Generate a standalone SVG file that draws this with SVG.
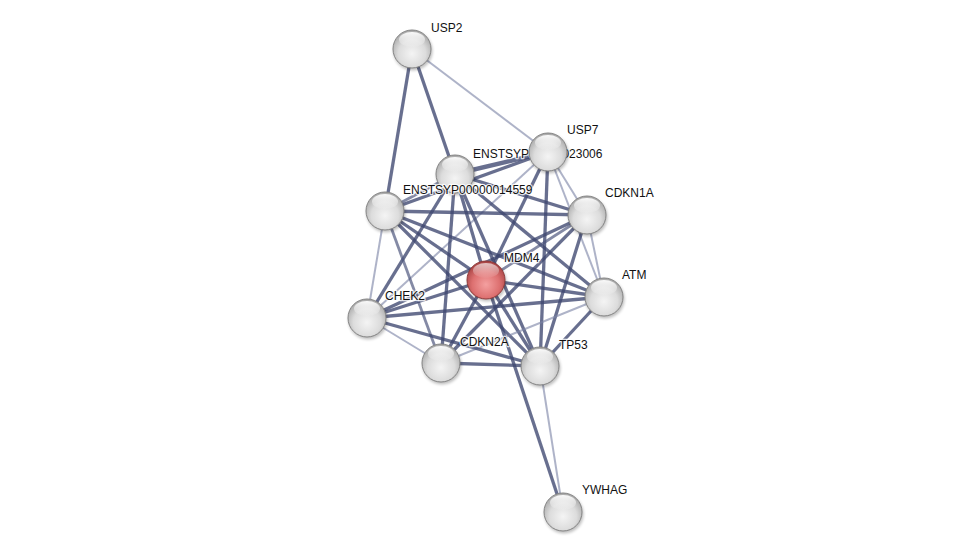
<svg xmlns="http://www.w3.org/2000/svg" width="975" height="557" viewBox="0 0 975 557">
<defs>
<radialGradient id="gGrey" cx="0.5" cy="0.62" r="0.6">
<stop offset="0" stop-color="#f4f4f4"/>
<stop offset="0.6" stop-color="#dcdcdc"/>
<stop offset="1" stop-color="#a9a9a9"/>
</radialGradient>
<radialGradient id="gRed" cx="0.5" cy="0.62" r="0.6">
<stop offset="0" stop-color="#f4a0a0"/>
<stop offset="0.6" stop-color="#dd7070"/>
<stop offset="1" stop-color="#a84444"/>
</radialGradient>
<linearGradient id="gHi" x1="0" y1="0" x2="0" y2="1">
<stop offset="0" stop-color="#ffffff" stop-opacity="0.95"/>
<stop offset="1" stop-color="#ffffff" stop-opacity="0.05"/>
</linearGradient>
<filter id="sh" x="-30%" y="-30%" width="160%" height="160%">
<feGaussianBlur stdDeviation="1.5"/>
</filter>
<g id="sphere">
<circle cx="1" cy="2" r="19.5" fill="#000" opacity="0.25" filter="url(#sh)"/>
<circle r="19" fill="url(#gGrey)" stroke="#858585" stroke-width="1"/>
<ellipse cx="0" cy="-9.5" rx="13" ry="7.5" fill="url(#gHi)"/>
</g>
<g id="sphereRed">
<circle cx="1" cy="2" r="19.5" fill="#000" opacity="0.25" filter="url(#sh)"/>
<circle r="19" fill="url(#gRed)" stroke="#8e3a3a" stroke-width="1"/>
<ellipse cx="0" cy="-9.5" rx="13" ry="7.5" fill="url(#gHi)" opacity="0.7"/>
</g>
</defs>
<style>
.t{stroke:#3e4770;stroke-width:3.3;stroke-opacity:0.78;fill:none}
.m{stroke:#4a537a;stroke-width:2.8;stroke-opacity:0.68;fill:none}
.l{stroke:#7d84a6;stroke-width:2;stroke-opacity:0.62;fill:none}
.lab{font-family:"Liberation Sans",Arial,sans-serif;font-size:12px;fill:#111;stroke:#fff;stroke-width:2.5px;stroke-opacity:0.8;paint-order:stroke;stroke-linejoin:round}
</style>
<rect width="975" height="557" fill="#ffffff"/>
<g id="connectors">
<line class="t" x1="412" y1="49" x2="385" y2="211"/>
<line class="t" x1="412" y1="49" x2="455" y2="174"/>
<line class="l" x1="412" y1="49" x2="548" y2="152"/>
<line class="t" x1="548" y1="152" x2="455" y2="174" style="stroke-width:4.5"/>
<line class="t" x1="548" y1="152" x2="385" y2="211"/>
<line class="l" x1="548" y1="152" x2="587" y2="215"/>
<line class="l" x1="548" y1="152" x2="604" y2="297"/>
<line class="t" x1="548" y1="152" x2="486" y2="280"/>
<line class="t" x1="548" y1="152" x2="540" y2="366"/>
<line class="l" x1="548" y1="152" x2="367" y2="318"/>
<line class="m" x1="455" y1="174" x2="385" y2="211"/>
<line class="t" x1="455" y1="174" x2="367" y2="318"/>
<line class="t" x1="455" y1="174" x2="441" y2="363"/>
<line class="t" x1="455" y1="174" x2="486" y2="280"/>
<line class="t" x1="455" y1="174" x2="540" y2="366"/>
<line class="t" x1="455" y1="174" x2="604" y2="297"/>
<line class="t" x1="455" y1="174" x2="587" y2="215"/>
<line class="t" x1="385" y1="211" x2="587" y2="215"/>
<line class="t" x1="385" y1="211" x2="486" y2="280"/>
<line class="t" x1="385" y1="211" x2="540" y2="366"/>
<line class="t" x1="385" y1="211" x2="604" y2="297"/>
<line class="m" x1="385" y1="211" x2="441" y2="363"/>
<line class="l" x1="385" y1="211" x2="367" y2="318"/>
<line class="m" x1="587" y1="215" x2="486" y2="280"/>
<line class="l" x1="587" y1="215" x2="604" y2="297"/>
<line class="t" x1="587" y1="215" x2="540" y2="366"/>
<line class="t" x1="587" y1="215" x2="441" y2="363"/>
<line class="t" x1="587" y1="215" x2="367" y2="318"/>
<line class="t" x1="486" y1="280" x2="604" y2="297"/>
<line class="t" x1="486" y1="280" x2="540" y2="366"/>
<line class="t" x1="486" y1="280" x2="441" y2="363"/>
<line class="t" x1="486" y1="280" x2="367" y2="318"/>
<line class="t" x1="486" y1="280" x2="563" y2="512"/>
<line class="t" x1="604" y1="297" x2="540" y2="366"/>
<line class="l" x1="604" y1="297" x2="441" y2="363"/>
<line class="t" x1="604" y1="297" x2="367" y2="318"/>
<line class="t" x1="367" y1="318" x2="540" y2="366"/>
<line class="l" x1="367" y1="318" x2="441" y2="363"/>
<line class="t" x1="441" y1="363" x2="540" y2="366"/>
<line class="l" x1="540" y1="366" x2="563" y2="512"/>
</g>
<g id="node-ENSTSYP00000023006">
<text class="lab" x="473" y="158">ENSTSYP00000023006</text>
<use href="#sphere" x="455" y="174"/>
</g>
<g id="node-USP2">
<text class="lab" x="431" y="32">USP2</text>
<use href="#sphere" x="412" y="49"/>
</g>
<g id="node-USP7">
<text class="lab" x="567" y="134">USP7</text>
<use href="#sphere" x="548" y="152"/>
</g>
<g id="node-ENSTSYP00000014559">
<use href="#sphere" x="385" y="211"/>
<text class="lab" x="403" y="194">ENSTSYP00000014559</text>
</g>
<g id="node-CDKN1A">
<text class="lab" x="605" y="197">CDKN1A</text>
<use href="#sphere" x="587" y="215"/>
</g>
<g id="node-MDM4">
<text class="lab" x="504" y="262">MDM4</text>
<use href="#sphereRed" x="486" y="280"/>
</g>
<g id="node-ATM">
<text class="lab" x="622" y="279">ATM</text>
<use href="#sphere" x="604" y="297"/>
</g>
<g id="node-CHEK2">
<text class="lab" x="385" y="300">CHEK2</text>
<use href="#sphere" x="367" y="318"/>
</g>
<g id="node-CDKN2A">
<text class="lab" x="460" y="346">CDKN2A</text>
<use href="#sphere" x="441" y="363"/>
</g>
<g id="node-TP53">
<text class="lab" x="559" y="349">TP53</text>
<use href="#sphere" x="540" y="366"/>
</g>
<g id="node-YWHAG">
<text class="lab" x="582" y="494">YWHAG</text>
<use href="#sphere" x="563" y="512"/>
</g>
</svg>
